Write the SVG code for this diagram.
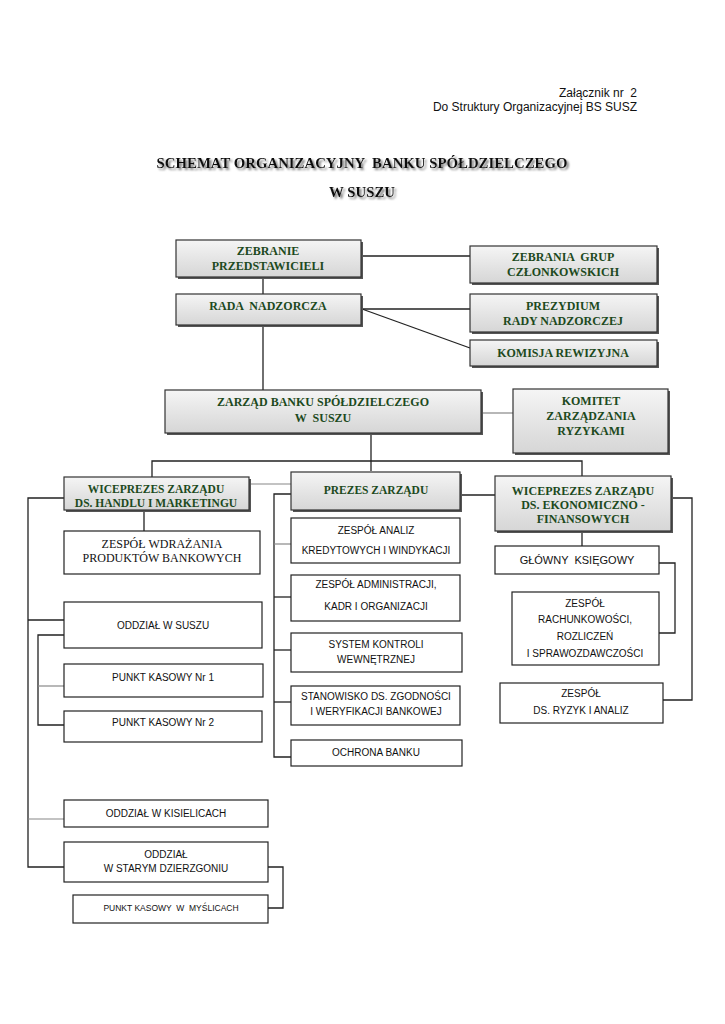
<svg xmlns="http://www.w3.org/2000/svg" width="725" height="1024" viewBox="0 0 725 1024">
<defs>
<linearGradient id="hg" x1="0" y1="0" x2="0" y2="1">
<stop offset="0" stop-color="#f5f5f5"/>
<stop offset="0.6" stop-color="#e2e2e2"/>
<stop offset="1" stop-color="#d6d6d6"/>
</linearGradient>
<filter id="ts" x="-5%" y="-30%" width="110%" height="160%">
<feGaussianBlur in="SourceAlpha" stdDeviation="0.9"/>
<feOffset dx="1.8" dy="1.8" result="b"/>
<feFlood flood-color="#777"/>
<feComposite in2="b" operator="in" result="s"/>
<feMerge><feMergeNode in="s"/><feMergeNode in="SourceGraphic"/></feMerge>
</filter>
</defs>
<style>
.hb{fill:url(#hg);stroke:#333;stroke-width:1.2}
.sh{fill:#555}
.wb{fill:#fff;stroke:#222;stroke-width:1.2}
.ht{font-family:"Liberation Serif","Times New Roman",serif;font-weight:bold;fill:#1d4a1d;text-anchor:middle;font-size:12px}
.pt{font-family:"Liberation Sans",Arial,sans-serif;fill:#111;text-anchor:middle;font-size:10px}
.st{font-family:"Liberation Serif","Times New Roman",serif;fill:#111;text-anchor:middle;font-size:12px}
.c{fill:none;stroke:#222;stroke-width:1.3}
.g{fill:none;stroke:#888;stroke-width:1.2}
.hd{font-family:"Liberation Sans",Arial,sans-serif;fill:#111;text-anchor:end;font-size:12px}
.tt{font-family:"Liberation Serif","Times New Roman",serif;font-weight:bold;fill:#111;text-anchor:middle;font-size:14.8px}
</style>
<rect width="725" height="1024" fill="#fff"/>
<g id="header">
<text class="hd" x="637" y="97" xml:space="preserve">Załącznik nr  2</text>
<text class="hd" x="637" y="111">Do Struktury Organizacyjnej BS SUSZ</text>
</g>
<g id="title" filter="url(#ts)">
<text class="tt" x="362" y="168" xml:space="preserve">SCHEMAT ORGANIZACYJNY  BANKU SPÓŁDZIELCZEGO</text>
<text class="tt" x="362" y="197">W SUSZU</text>
</g>
<g id="connectors">
<path class="c" d="M362 256H470"/>
<path class="c" d="M263 278V294"/>
<path class="c" d="M362 309H470"/>
<path class="c" d="M362 309L470 348"/>
<path class="c" d="M263 325V390"/>
<path class="g" d="M481 413H513"/>
<path class="c" d="M371 433V471"/>
<path class="c" d="M152 477V461H582V476"/>
<path class="g" d="M249 484H291"/>
<path class="c" d="M460 495H495"/>
<path class="c" d="M144 510V531"/>
<path class="c" d="M64 498H28V867H64"/>
<path class="c" d="M28 620H64"/>
<path class="g" d="M28 819H64"/>
<path class="c" d="M64 635H38V725H64"/>
<path class="g" d="M38 686H64"/>
<path class="c" d="M268 867H283V908H268"/>
<path class="c" d="M291 494H274V757H291"/>
<path class="g" d="M274 544H291"/>
<path class="c" d="M274 597H291"/>
<path class="c" d="M274 650H291"/>
<path class="c" d="M274 702H291"/>
<path class="c" d="M582 531V546"/>
<path class="c" d="M659 563H675V633H659"/>
<path class="c" d="M671 498H692V700H663"/>
</g>
<g id="zebranie">
<rect class="sh" x="178" y="242" width="185" height="37"/>
<rect class="hb" x="176" y="240" width="185" height="37"/>
<text class="ht" x="268" y="255">ZEBRANIE</text>
<text class="ht" x="268" y="270">PRZEDSTAWICIELI</text>
</g>
<g id="zebrania-grup">
<rect class="sh" x="472" y="248" width="187" height="37"/>
<rect class="hb" x="470" y="246" width="187" height="37"/>
<text class="ht" x="563" y="261" xml:space="preserve">ZEBRANIA  GRUP</text>
<text class="ht" x="563" y="276">CZŁONKOWSKICH</text>
</g>
<g id="rada">
<rect class="sh" x="178" y="296" width="185" height="31"/>
<rect class="hb" x="176" y="294" width="185" height="31"/>
<text class="ht" x="268" y="310" xml:space="preserve">RADA  NADZORCZA</text>
</g>
<g id="prezydium">
<rect class="sh" x="472" y="296" width="187" height="38"/>
<rect class="hb" x="470" y="294" width="187" height="38"/>
<text class="ht" x="563" y="310">PREZYDIUM</text>
<text class="ht" x="563" y="325">RADY NADZORCZEJ</text>
</g>
<g id="komisja">
<rect class="sh" x="472" y="342" width="187" height="26"/>
<rect class="hb" x="470" y="340" width="187" height="26"/>
<text class="ht" x="563" y="357">KOMISJA REWIZYJNA</text>
</g>
<g id="zarzad">
<rect class="sh" x="167" y="392" width="316" height="43"/>
<rect class="hb" x="165" y="390" width="316" height="43"/>
<text class="ht" x="323" y="406">ZARZĄD BANKU SPÓŁDZIELCZEGO</text>
<text class="ht" x="323" y="422" xml:space="preserve">W  SUSZU</text>
</g>
<g id="komitet">
<rect class="sh" x="515" y="391" width="155" height="64"/>
<rect class="hb" x="513" y="389" width="155" height="64"/>
<text class="ht" x="591" y="405">KOMITET</text>
<text class="ht" x="591" y="420">ZARZĄDZANIA</text>
<text class="ht" x="591" y="435">RYZYKAMI</text>
</g>
<g id="wice-handel">
<rect class="sh" x="66" y="479" width="185" height="33"/>
<rect class="hb" x="64" y="477" width="185" height="33"/>
<text class="ht" x="156" y="493" style="font-size:11.5px">WICEPREZES ZARZĄDU</text>
<text class="ht" x="156" y="507" style="font-size:11.5px">DS. HANDLU I MARKETINGU</text>
</g>
<g id="prezes">
<rect class="sh" x="293" y="474" width="169" height="38"/>
<rect class="hb" x="291" y="472" width="169" height="38"/>
<text class="ht" x="376" y="494" style="font-size:11.5px">PREZES ZARZĄDU</text>
</g>
<g id="wice-ekon">
<rect class="sh" x="497" y="478" width="176" height="55"/>
<rect class="hb" x="495" y="476" width="176" height="55"/>
<text class="ht" x="583" y="495">WICEPREZES ZARZĄDU</text>
<text class="ht" x="583" y="509">DS. EKONOMICZNO -</text>
<text class="ht" x="583" y="523">FINANSOWYCH</text>
</g>
<g id="wdrazania">
<rect class="wb" x="64" y="531" width="196" height="43"/>
<text class="st" x="162" y="548">ZESPÓŁ WDRAŻANIA</text>
<text class="st" x="162" y="562">PRODUKTÓW BANKOWYCH</text>
</g>
<g id="oddzial-susz">
<rect class="wb" x="64" y="602" width="198" height="46"/>
<text class="pt" x="163" y="629">ODDZIAŁ W SUSZU</text>
</g>
<g id="pk1">
<rect class="wb" x="64" y="664" width="199" height="33"/>
<text class="pt" x="163" y="681">PUNKT KASOWY Nr 1</text>
</g>
<g id="pk2">
<rect class="wb" x="64" y="711" width="198" height="31"/>
<text class="pt" x="163" y="726">PUNKT KASOWY Nr 2</text>
</g>
<g id="kisielice">
<rect class="wb" x="64" y="800" width="204" height="27"/>
<text class="pt" x="166" y="817">ODDZIAŁ W KISIELICACH</text>
</g>
<g id="dzierzgon">
<rect class="wb" x="64" y="842" width="204" height="40"/>
<text class="pt" x="166" y="858">ODDZIAŁ</text>
<text class="pt" x="166" y="872">W STARYM DZIERZGONIU</text>
</g>
<g id="myslice">
<rect class="wb" x="73" y="895" width="195" height="28"/>
<text class="pt" x="171" y="911" style="font-size:8.5px" xml:space="preserve">PUNKT KASOWY  W  MYŚLICACH</text>
</g>
<g id="analiz">
<rect class="wb" x="291" y="518" width="169" height="45"/>
<text class="pt" x="376" y="534">ZESPÓŁ ANALIZ</text>
<text class="pt" x="376" y="554">KREDYTOWYCH I WINDYKACJI</text>
</g>
<g id="administracji">
<rect class="wb" x="291" y="575" width="169" height="46"/>
<text class="pt" x="376" y="588">ZESPÓŁ ADMINISTRACJI,</text>
<text class="pt" x="376" y="610">KADR I ORGANIZACJI</text>
</g>
<g id="kontrola">
<rect class="wb" x="291" y="633" width="171" height="39"/>
<text class="pt" x="376" y="648">SYSTEM KONTROLI</text>
<text class="pt" x="376" y="663">WEWNĘTRZNEJ</text>
</g>
<g id="stanowisko">
<rect class="wb" x="291" y="686" width="169" height="39"/>
<text class="pt" x="376" y="700">STANOWISKO DS. ZGODNOŚCI</text>
<text class="pt" x="376" y="715">I WERYFIKACJI BANKOWEJ</text>
</g>
<g id="ochrona">
<rect class="wb" x="291" y="740" width="171" height="26"/>
<text class="pt" x="376" y="756">OCHRONA BANKU</text>
</g>
<g id="ksiegowy">
<rect class="wb" x="495" y="546" width="164" height="28"/>
<text class="pt" x="577" y="564" style="font-size:11px" xml:space="preserve">GŁÓWNY  KSIĘGOWY</text>
</g>
<g id="rachunkowosci">
<rect class="wb" x="512" y="592" width="147" height="73"/>
<text class="pt" x="585" y="607">ZESPÓŁ</text>
<text class="pt" x="585" y="623">RACHUNKOWOŚCI,</text>
<text class="pt" x="585" y="640">ROZLICZEŃ</text>
<text class="pt" x="585" y="657">I SPRAWOZDAWCZOŚCI</text>
</g>
<g id="ryzyk">
<rect class="wb" x="500" y="683" width="163" height="40"/>
<text class="pt" x="581" y="697">ZESPÓŁ</text>
<text class="pt" x="581" y="714">DS. RYZYK I ANALIZ</text>
</g>
</svg>
